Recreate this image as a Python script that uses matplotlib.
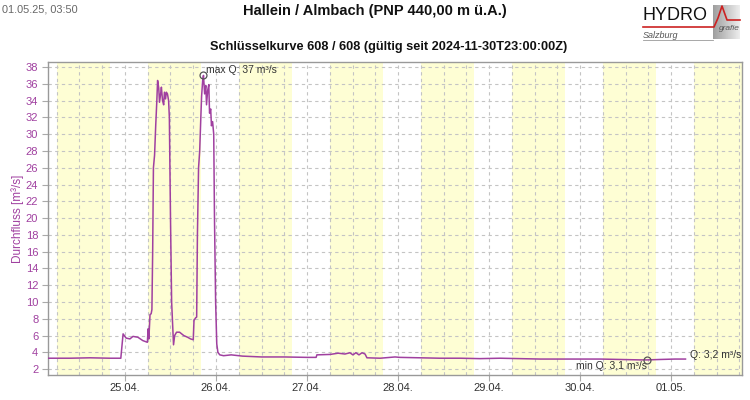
import matplotlib
matplotlib.use("Agg")
import matplotlib.pyplot as plt
import numpy as np
from matplotlib.lines import Line2D

plt.rcParams['font.family'] = ['Liberation Sans', 'DejaVu Sans']

# ---- data: hours since 24.04.2025 00:00, discharge in m³/s ----
t_hours = [3.83, 9.5, 14.8, 20.0, 22.9, 23.5, 24.3, 25.3, 26.1, 27.4, 28.7, 29.9,
           30.1, 30.3, 30.6, 30.9, 31.1, 31.3, 31.5, 31.8, 32.1, 32.4, 32.6, 32.9,
           33.1, 33.4, 33.6, 33.9, 34.2, 34.4, 34.7, 34.9, 35.2, 35.5, 35.7, 36.0,
           36.3, 36.8, 37.1, 37.6, 38.4, 39.5, 40.5, 41.3, 42.0, 42.2, 42.6, 42.9,
           43.1, 43.4, 43.7, 44.0, 44.2, 44.5, 44.7, 45.0, 45.3, 45.5, 45.8, 46.1,
           46.3, 46.6, 46.8, 47.1, 47.4, 47.6, 47.9, 48.2, 48.5, 49.0, 50.0, 52.0,
           55.0, 60.0, 66.0, 72.0, 74.4, 74.6, 78.1, 80.2, 82.0, 83.3, 84.1, 84.9,
           85.7, 86.5, 87.3, 87.8, 91.3, 95.2, 96.5, 101.8, 107.0, 112.4, 117.6,
           122.9, 128.2, 133.5, 138.7, 144.0, 149.3, 154.6, 159.8, 161.7, 165.1,
           169.0, 171.8]
q_values = [3.3, 3.3, 3.35, 3.3, 3.3, 6.2, 5.7, 5.6, 5.9, 5.8, 5.4, 5.2,
            6.8, 5.6, 8.5, 8.6, 9.1, 16.0, 26.0, 27.5, 31.0, 34.0, 36.4, 35.5,
            33.8, 34.8, 35.6, 34.0, 33.5, 35.0, 34.2, 35.0, 34.8, 34.0, 32.0, 20.0,
            10.0, 4.9, 6.0, 6.4, 6.4, 6.0, 5.8, 5.6, 5.5, 7.8, 8.1, 8.2,
            18.0, 26.0, 28.0, 32.0, 34.5, 36.5, 37.0, 34.8, 35.8, 33.5, 35.2, 35.9,
            32.5, 33.0, 31.0, 31.5, 30.0, 20.0, 10.0, 5.0, 4.0, 3.7, 3.6, 3.7,
            3.55, 3.45, 3.45, 3.4, 3.4, 3.7, 3.75, 3.9, 3.8, 3.95, 3.7, 3.95,
            3.7, 3.95, 3.8, 3.35, 3.3, 3.45, 3.4, 3.35, 3.3, 3.3, 3.25,
            3.3, 3.25, 3.2, 3.2, 3.2, 3.2, 3.15, 3.1, 3.1, 3.15,
            3.2, 3.2]

day_ticks = [24, 48, 72, 96, 120, 144, 168]
day_labels = ["25.04.", "26.04.", "27.04.", "28.04.", "29.04.", "30.04.", "01.05."]
day_starts = [0, 24, 48, 72, 96, 120, 144, 168]   # for daylight bands
y_ticks = list(range(2, 39, 2))

max_t, max_q = 44.7, 37.0
min_t, min_q = 161.7, 3.1
last_q_label = "Q: 3,2 m³/s"

purple = '#a040a0'

fig = plt.figure(figsize=(7.5, 4.0), dpi=100)
ax = fig.add_axes([48/750, 1-375/400, (742-48)/750, (375-62)/400])

# daylight bands 06:00-20:00
for d in day_starts:
    ax.axvspan(d + 6, d + 20, color='#fefed4', lw=0, zorder=0)

ax.set_xlim(3.7, 186.7)
ax.set_ylim(1.3, 38.6)

ax.set_xticks(day_ticks)
ax.set_xticklabels(day_labels)
ax.set_xticks(np.arange(6, 187, 6), minor=True)
ax.set_yticks(y_ticks)
ax.set_yticklabels([str(v) for v in y_ticks])

ax.grid(True, which='both', axis='x', color='#c4c4c4', ls=(0, (3, 3)), lw=0.8, zorder=1)
ax.grid(True, which='major', axis='y', color='#c4c4c4', ls=(0, (3, 3)), lw=0.8, zorder=1)

ax.tick_params(axis='x', which='major', length=4, color='#aaaaaa', labelsize=8,
               labelcolor='#333333', pad=2)
ax.tick_params(axis='x', which='minor', length=0)
ax.tick_params(axis='y', length=4, color='#aaaaaa', labelsize=8, labelcolor=purple, pad=3)

for s in ax.spines.values():
    s.set_color('#999999')
    s.set_linewidth(1.0)

ax.plot(t_hours, q_values, color=purple, lw=1.1, zorder=3)

# max / min markers
ax.plot([max_t], [max_q], marker='o', ms=5, mfc='none', mec='#555555', mew=0.9, zorder=4)
ax.annotate("max Q: 37 m³/s", (max_t, max_q), xytext=(2, 4), textcoords='offset points',
            fontsize=7.5, color='#333333', ha='left', va='center')
ax.plot([min_t], [min_q], marker='o', ms=5, mfc='none', mec='#555555', mew=0.9, zorder=4)
ax.annotate("min Q: 3,1 m³/s", (min_t, min_q), xytext=(0, -1), textcoords='offset points',
            fontsize=7.5, color='#333333', ha='right', va='top')
ax.annotate(last_q_label, (t_hours[-1], q_values[-1]), xytext=(3, 3), textcoords='offset points',
            fontsize=7.5, color='#333333', ha='left', va='center')

ax.set_ylabel("Durchfluss [m³/s]", color=purple, fontsize=8.5, labelpad=1)

# titles
fig.text(375/750, 1-11/400, "Hallein / Almbach (PNP 440,00 m ü.A.)", ha='center', va='center',
         fontsize=10.5, fontweight='bold', color='#111111')
fig.text(389/750, 1-47/400, "Schlüsselkurve 608 / 608 (gültig seit 2024-11-30T23:00:00Z)",
         ha='center', va='center', fontsize=9.2, fontweight='bold', color='#111111')
fig.text(2/750, 1-9/400, "01.05.25, 03:50", ha='left', va='center', fontsize=7.8, color='#666666')

# logo
gax = fig.add_axes([713/750, 1-39/400, 27/750, 34/400])
grad = np.linspace(0.62, 0.93, 64)[None, :]
gax.imshow(np.repeat(grad, 8, axis=0), cmap='gray', vmin=0, vmax=1, aspect='auto')
gax.set_axis_off()
fig.text(643/750, 1-15/400, "HYDRO", ha='left', va='center', fontsize=13, color='#111111')
fig.text(643/750, 1-35/400, "Salzburg", ha='left', va='center', fontsize=6.5,
         style='italic', color='#555555')
fig.text(719/750, 1-28/400, "grafie", ha='left', va='center', fontsize=6, style='italic',
         color='#555555')
xs = np.array([643, 714, 718, 722, 727, 731, 740]) / 750
ys = 1 - np.array([27, 27, 18, 6, 20, 20, 20]) / 400
fig.add_artist(Line2D(xs, ys, color='#cc2222', lw=1.2))
fig.add_artist(Line2D([643/750, 713/750], [1-40/400, 1-40/400], color='#999999', lw=0.6))

fig.savefig("out.png", dpi=100)
